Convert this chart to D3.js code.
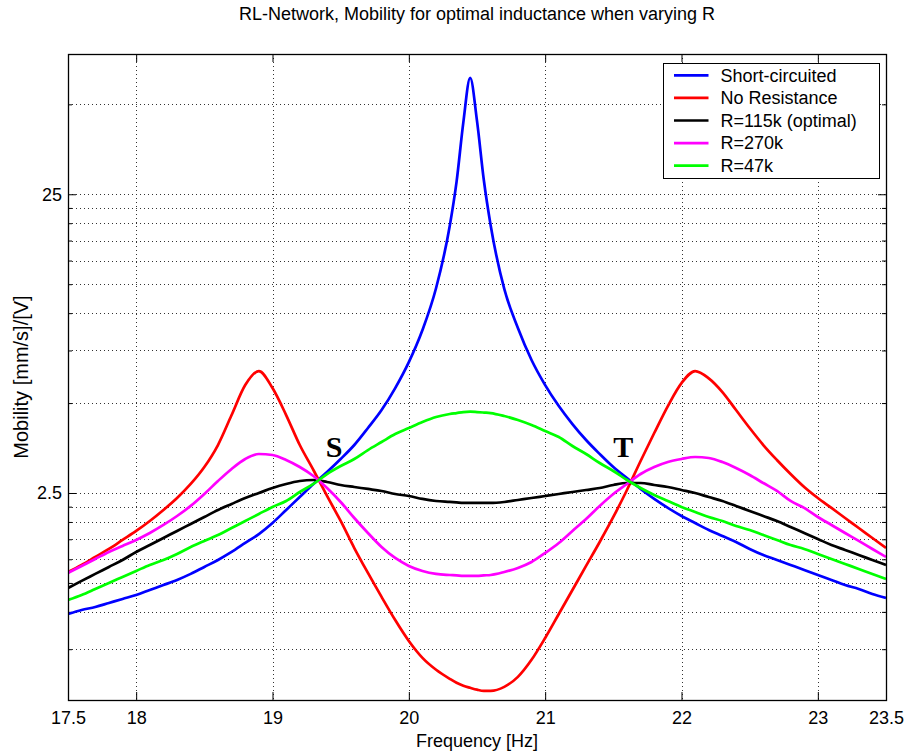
<!DOCTYPE html>
<html>
<head>
<meta charset="utf-8">
<title>RL-Network mobility</title>
<script src="https://d3js.org/d3.v7.min.js"></script>
<style>
  body { margin: 0; background: #fff; }
  svg text { font-family: "Liberation Sans", Arial, sans-serif; fill: #000; }
  .grid line { stroke: #333; stroke-width: 1; stroke-dasharray: 1,3; }
  .axis path { display: none; }
  .axis line { stroke: #000; }
</style>
</head>
<body>
<svg id="chart" width="908" height="756"></svg>
<script>
// frequency grid [Hz]
const freq = [17.5, 17.6, 17.7, 17.8, 17.9, 18.0, 18.1, 18.2, 18.3, 18.4,
  18.5, 18.6, 18.7, 18.8, 18.9, 19.0, 19.1, 19.2, 19.3, 19.4,
  19.5, 19.6, 19.7, 19.8, 19.9, 20.0, 20.1, 20.2, 20.3,
  20.35, 20.4, 20.45, 20.5, 20.55,
  20.6, 20.7, 20.8, 20.9, 21.0, 21.1, 21.2, 21.3, 21.4, 21.5,
  21.6, 21.7, 21.8, 21.9, 22.0, 22.1, 22.2, 22.3, 22.4, 22.5,
  22.6, 22.7, 22.8, 22.9, 23.0, 23.1, 23.2, 23.3, 23.4, 23.5];

// mobility [mm/s]/[V]
const shortCircuited = [0.984, 1.015, 1.038, 1.071, 1.105, 1.139, 1.184, 1.230, 1.279, 1.340,
  1.414, 1.492, 1.587, 1.701, 1.822, 1.984, 2.193, 2.424, 2.680, 2.940,
  3.249, 3.619, 4.125, 4.738, 5.613, 6.857, 8.78, 12.14, 19.58,
  27.49, 43.6, 61.3, 44.0, 27.9,
  19.7, 12.05, 8.92, 6.97, 5.744, 4.887, 4.254, 3.761, 3.377, 3.054,
  2.806, 2.579, 2.388, 2.228, 2.094, 1.984, 1.880, 1.795, 1.714, 1.624,
  1.550, 1.492, 1.436, 1.382, 1.329, 1.279, 1.230, 1.193, 1.148, 1.113];

const noResistance = [1.360, 1.436, 1.527, 1.624, 1.741, 1.866, 2.015, 2.193, 2.405, 2.680,
  3.054, 3.619, 4.559, 5.744, 6.398, 5.613, 4.559, 3.619, 2.985, 2.443,
  2.015, 1.636, 1.350, 1.122, 0.939, 0.799, 0.7015, 0.640, 0.597,
  0.579, 0.566, 0.557, 0.549, 0.544,
  0.544, 0.561, 0.606, 0.691, 0.818, 0.984, 1.184, 1.425, 1.714, 2.078,
  2.559, 3.199, 3.969, 4.887, 5.833, 6.398, 6.05, 5.443, 4.738, 4.125,
  3.619, 3.224, 2.894, 2.618, 2.405, 2.228, 2.062, 1.909, 1.767, 1.636];

const r115k = [1.202, 1.270, 1.340, 1.414, 1.492, 1.587, 1.674, 1.767, 1.866, 1.969,
  2.078, 2.193, 2.298, 2.405, 2.500, 2.598, 2.680, 2.742, 2.763, 2.721,
  2.659, 2.618, 2.579, 2.539, 2.481, 2.443, 2.388, 2.351, 2.333,
  2.324, 2.315, 2.315, 2.315, 2.315,
  2.315, 2.333, 2.369, 2.405, 2.443, 2.481, 2.519, 2.559, 2.598, 2.659,
  2.700, 2.700, 2.659, 2.618, 2.559, 2.500, 2.424, 2.351, 2.263, 2.176,
  2.094, 2.015, 1.924, 1.837, 1.754, 1.674, 1.612, 1.550, 1.492, 1.436];

const r270k = [1.350, 1.425, 1.504, 1.587, 1.662, 1.741, 1.837, 1.954, 2.094, 2.263,
  2.481, 2.742, 3.009, 3.249, 3.377, 3.351, 3.224, 3.054, 2.850, 2.598,
  2.333, 2.062, 1.837, 1.649, 1.515, 1.425, 1.371, 1.340, 1.329,
  1.325, 1.319, 1.319, 1.319, 1.325,
  1.329, 1.360, 1.403, 1.469, 1.575, 1.701, 1.866, 2.046, 2.263, 2.481,
  2.680, 2.894, 3.054, 3.174, 3.249, 3.299, 3.274, 3.174, 3.031, 2.872,
  2.700, 2.539, 2.351, 2.228, 2.078, 1.954, 1.837, 1.728, 1.624, 1.527];

const r47k = [1.096, 1.139, 1.193, 1.250, 1.309, 1.371, 1.436, 1.492, 1.563, 1.649,
  1.728, 1.808, 1.909, 2.015, 2.127, 2.245, 2.351, 2.519, 2.680, 2.894,
  3.078, 3.249, 3.481, 3.703, 3.939, 4.125, 4.320, 4.489, 4.595,
  4.630, 4.666, 4.680, 4.666, 4.648,
  4.630, 4.525, 4.387, 4.221, 4.031, 3.849, 3.591, 3.377, 3.150, 2.962,
  2.763, 2.598, 2.462, 2.351, 2.245, 2.160, 2.078, 2.015, 1.939, 1.880,
  1.808, 1.741, 1.674, 1.624, 1.563, 1.504, 1.447, 1.392, 1.340, 1.289];

const seriesNames = ["Short-circuited", "No Resistance", "R=115k (optimal)", "R=270k", "R=47k"];
const seriesValues = [shortCircuited, noResistance, r115k, r270k, r47k];
const seriesColors = ["#0000ff", "#ff0000", "#000000", "#ff00ff", "#00ff00"];

// axis ticks
const xTicks = [17.5, 18, 19, 20, 21, 22, 23, 23.5];
const xGrid = [18, 19, 20, 21, 22, 23];
const yTicks = [2.5, 25];
const yMinor = [0.75, 1, 1.25, 1.5, 1.75, 2, 2.25, 5, 7.5, 10, 12.5, 15, 17.5, 20, 22.5, 50];

// crossing point labels
const markLabels = ["S", "T"];
const markFreq = [19.39, 21.5];
const markValue = [3.31, 3.31];

const W = 908, H = 756;
const margin = {top: 54, right: 22, bottom: 56, left: 68};

const svg = d3.select("#chart");

const x = d3.scaleLinear().domain([17.5, 23.5]).range([margin.left, W - margin.right]);
const y = d3.scaleLog().domain([0.507, 73.7]).range([H - margin.bottom, margin.top]);

const x0 = margin.left, x1 = W - margin.right, y0 = margin.top, y1 = H - margin.bottom;

// grid
const grid = svg.append("g").attr("class", "grid");
grid.selectAll(".gx").data(xGrid).enter().append("line")
  .attr("x1", d => Math.round(x(d)) + 0.5).attr("x2", d => Math.round(x(d)) + 0.5)
  .attr("y1", y0).attr("y2", y1);
grid.selectAll(".gy").data(yTicks.concat(yMinor)).enter().append("line")
  .attr("y1", d => Math.round(y(d)) + 0.5).attr("y2", d => Math.round(y(d)) + 0.5)
  .attr("x1", x0).attr("x2", x1);

// axes (ticks pointing inward, on all four sides)
svg.append("g").attr("class", "axis")
  .attr("transform", `translate(0,${y1})`)
  .call(d3.axisBottom(x).tickValues(xTicks).tickSize(-8).tickPadding(11).tickFormat(d3.format("")))
  .call(g => g.selectAll("text").attr("font-size", 18).attr("font-family", null));
svg.append("g").attr("class", "axis")
  .attr("transform", `translate(0,${y0})`)
  .call(d3.axisTop(x).tickValues(xGrid).tickSize(-8).tickFormat(""));
svg.append("g").attr("class", "axis")
  .attr("transform", `translate(${x0},0)`)
  .call(d3.axisLeft(y).tickValues(yTicks).tickSize(-8).tickPadding(6).tickFormat(d3.format("")))
  .call(g => g.selectAll("text").attr("font-size", 18).attr("font-family", null));
svg.append("g").attr("class", "axis")
  .attr("transform", `translate(${x0},0)`)
  .call(d3.axisLeft(y).tickValues(yMinor).tickSize(-4).tickFormat(""));
svg.append("g").attr("class", "axis")
  .attr("transform", `translate(${x1},0)`)
  .call(d3.axisRight(y).tickValues(yTicks).tickSize(-8).tickFormat(""));
svg.append("g").attr("class", "axis")
  .attr("transform", `translate(${x1},0)`)
  .call(d3.axisRight(y).tickValues(yMinor).tickSize(-4).tickFormat(""));

// curves
svg.append("clipPath").attr("id", "plotclip").append("rect")
  .attr("x", x0).attr("y", y0).attr("width", x1 - x0).attr("height", y1 - y0);

const line = d3.line()
  .x((d, i) => x(freq[i]))
  .y(d => y(d))
  .curve(d3.curveMonotoneX);

svg.append("g").attr("clip-path", "url(#plotclip)")
  .selectAll("path").data(seriesValues).enter().append("path")
  .attr("d", line)
  .attr("fill", "none")
  .attr("stroke", (d, i) => seriesColors[i])
  .attr("stroke-width", 2.7)
  .attr("stroke-linejoin", "round");

// S / T markers
svg.selectAll(".mark").data(markLabels).enter().append("text")
  .attr("x", (d, i) => x(markFreq[i]))
  .attr("y", (d, i) => y(markValue[i]))
  .attr("font-weight", "bold")
  .attr("font-size", 30)
  .style("font-family", "'Liberation Serif', 'Times New Roman', serif")
  .text(d => d);

// box
svg.append("rect")
  .attr("x", x0 + 0.5).attr("y", y0 + 0.5)
  .attr("width", x1 - x0).attr("height", y1 - y0)
  .attr("fill", "none").attr("stroke", "#000").attr("stroke-width", 1.3);

// legend
const lg = svg.append("g").attr("transform", "translate(663.5,63.5)");
lg.append("rect").attr("width", 216).attr("height", 115)
  .attr("fill", "#fff").attr("stroke", "#000").attr("stroke-width", 1);
seriesNames.forEach((name, i) => {
  const ry = 11.8 + i * 22.6;
  lg.append("line").attr("x1", 10.5).attr("x2", 45).attr("y1", ry).attr("y2", ry)
    .attr("stroke", seriesColors[i]).attr("stroke-width", 2.7);
  lg.append("text").attr("x", 57).attr("y", ry).attr("dy", "0.35em")
    .attr("font-size", 18).text(name);
});

// titles
svg.append("text").attr("x", (x0 + x1) / 2).attr("y", 20)
  .attr("text-anchor", "middle").attr("font-size", 18)
  .text("RL-Network, Mobility for optimal inductance when varying R");
svg.append("text").attr("x", (x0 + x1) / 2).attr("y", 747)
  .attr("text-anchor", "middle").attr("font-size", 18)
  .text("Frequency [Hz]");
svg.append("text")
  .attr("transform", `translate(28,${(y0 + y1) / 2}) rotate(-90)`)
  .attr("text-anchor", "middle").attr("font-size", 20)
  .text("Mobility [mm/s]/[V]");
</script>
</body>
</html>
